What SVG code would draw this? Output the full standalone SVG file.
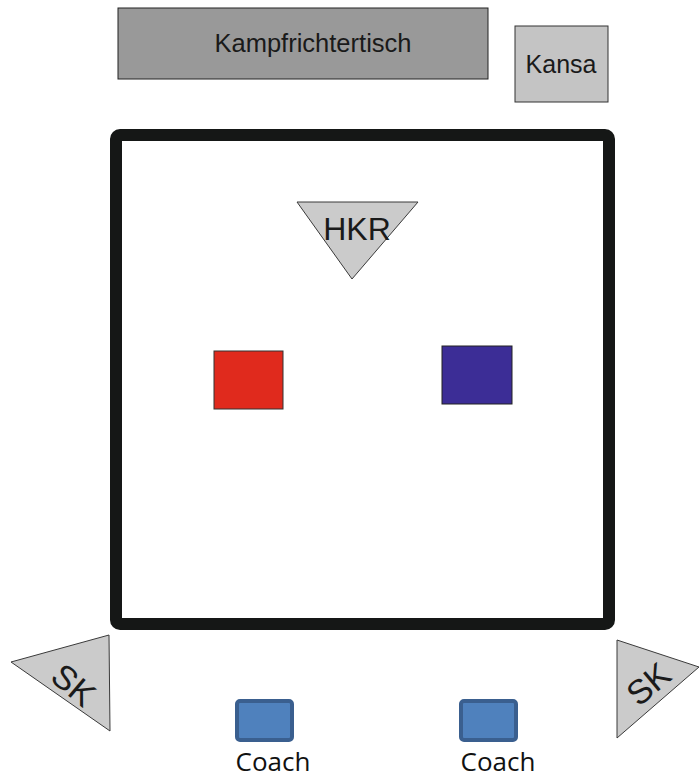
<svg xmlns="http://www.w3.org/2000/svg" width="699" height="780" viewBox="0 0 699 780">
<style>
.lbl{font-family:"Liberation Sans",Arial,sans-serif;fill:#1a1a1a;text-anchor:middle}
.tri{fill:#cbcbcb;stroke:#3a3a3a;stroke-width:1}
.coach{fill:#4f81bd;stroke:#3a5f8f;stroke-width:4}
.ctext{font-family:"Open Sans",sans-serif;font-size:26px;fill:#111;text-anchor:middle}
</style>
<rect width="699" height="780" fill="#fff"/>
<g id="kampfrichtertisch">
<rect x="118" y="8" width="370" height="71" fill="#999" stroke="#222" stroke-width="1"/>
<text class="lbl" x="313" y="52" font-size="25.5">Kampfrichtertisch</text>
</g>
<g id="kansa">
<rect x="515" y="26" width="93" height="76" fill="#c4c4c4" stroke="#333" stroke-width="1"/>
<text class="lbl" x="561" y="73" font-size="25">Kansa</text>
</g>
<g id="matte">
<rect x="116" y="135" width="493" height="489" rx="4" fill="none" stroke="#151716" stroke-width="12" stroke-linejoin="round"/>
</g>
<g id="hkr">
<polygon class="tri" points="297,202 418,202 352,279"/>
<text class="lbl" x="357" y="240" font-size="32">HKR</text>
</g>
<g id="rot">
<rect x="214" y="351" width="69" height="58" fill="#e02a1d" stroke="#333" stroke-width="1"/>
</g>
<g id="blau">
<rect x="442" y="346" width="70" height="58" fill="#3c2d96" stroke="#222" stroke-width="1"/>
</g>
<g id="sk-links">
<polygon class="tri" points="11,662 109,635 110,731"/>
<text class="lbl" font-size="34" transform="translate(66,694) rotate(40)" x="0" y="0">SK</text>
</g>
<g id="sk-rechts">
<polygon class="tri" points="617,640 699,667 617,738"/>
<text class="lbl" font-size="34" transform="translate(656,693) rotate(-40)" x="0" y="0">SK</text>
</g>
<g id="coach-links">
<rect class="coach" x="237" y="701" width="55" height="39" rx="3"/>
<text class="ctext" x="273" y="771">Coach</text>
</g>
<g id="coach-rechts">
<rect class="coach" x="461" y="701" width="55" height="39" rx="3"/>
<text class="ctext" x="498" y="771">Coach</text>
</g>
<g id="connectors"></g>
</svg>
